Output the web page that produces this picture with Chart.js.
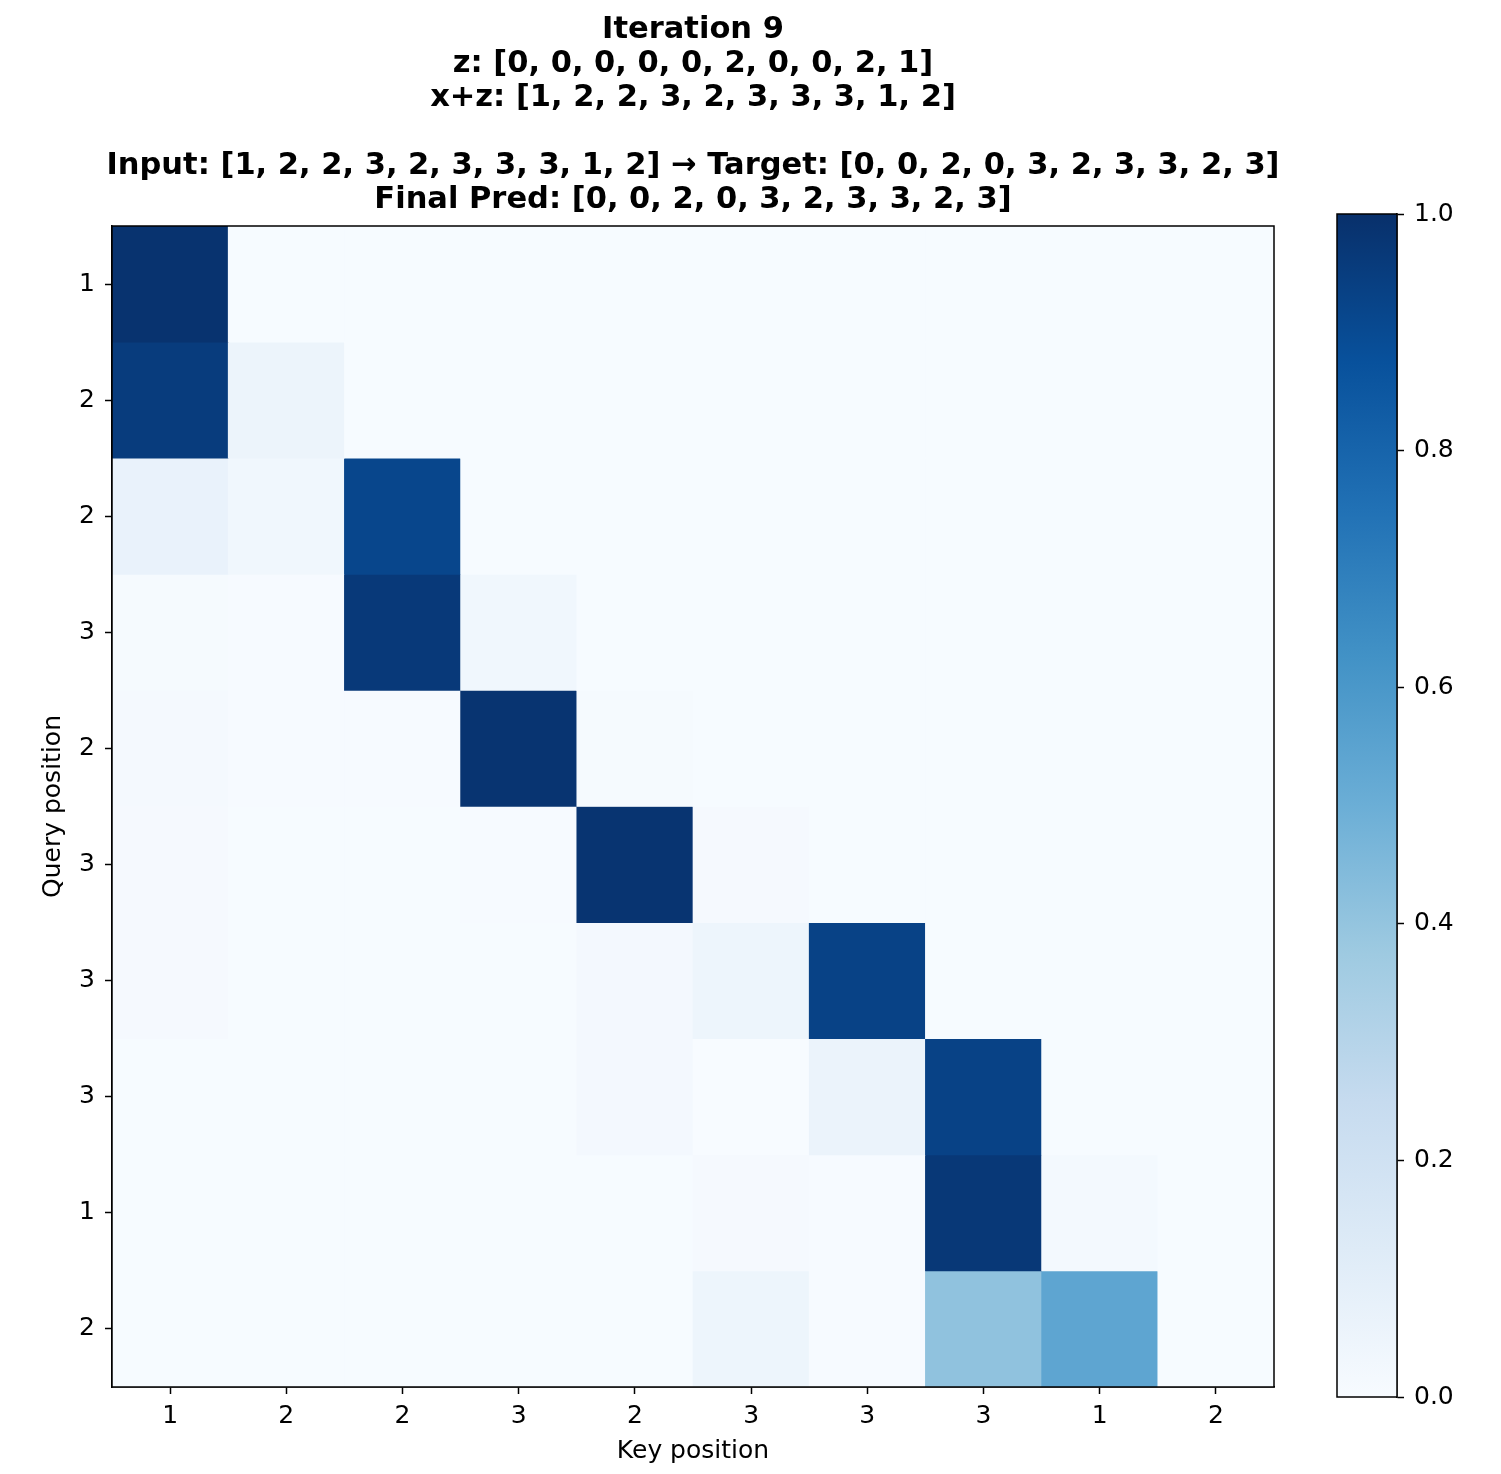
<!DOCTYPE html>
<html><head><meta charset="utf-8">
<script src="https://cdn.jsdelivr.net/npm/chart.js@4.4.0/dist/chart.umd.min.js"></script>
<style>
html,body{margin:0;padding:0;background:#fff;}
#wrap{position:relative;width:1501px;height:1474px;background:#fff;}
#main{position:absolute;left:0;top:0;width:1386px;height:1474px;}
#cbar{position:absolute;left:1330px;top:0;width:171px;height:1474px;}
</style></head><body>
<div id="wrap">
<canvas id="main" width="1386" height="1474"></canvas>
<canvas id="cbar" width="171" height="1474"></canvas>
</div>
<script>
// ---- data ----
const keyTokens   = ['1','2','2','3','2','3','3','3','1','2'];
const queryTokens = ['1','2','2','3','2','3','3','3','1','2'];
const row0 = [0.99, 0.003, 0.003, 0.003, 0.003, 0.003, 0.003, 0.003, 0.003, 0.003];
const row1 = [0.955, 0.055, 0.003, 0.003, 0.003, 0.003, 0.003, 0.003, 0.003, 0.003];
const row2 = [0.07, 0.035, 0.915, 0.003, 0.003, 0.003, 0.003, 0.003, 0.003, 0.003];
const row3 = [0.008, 0.005, 0.965, 0.035, 0.003, 0.003, 0.003, 0.003, 0.003, 0.003];
const row4 = [0.015, 0.004, 0.004, 0.985, 0.01, 0.003, 0.003, 0.003, 0.003, 0.003];
const row5 = [0.012, 0.003, 0.003, 0.004, 0.985, 0.012, 0.003, 0.003, 0.003, 0.003];
const row6 = [0.012, 0.003, 0.003, 0.003, 0.02, 0.05, 0.93, 0.003, 0.003, 0.003];
const row7 = [0.003, 0.003, 0.003, 0.003, 0.02, 0.002, 0.06, 0.93, 0.003, 0.003];
const row8 = [0.003, 0.003, 0.003, 0.003, 0.003, 0.012, 0.006, 0.97, 0.018, 0.003];
const row9 = [0.003, 0.003, 0.003, 0.003, 0.003, 0.05, 0.004, 0.41, 0.54, 0.003];
const attentionRows = [row0,row1,row2,row3,row4,row5,row6,row7,row8,row9];
const colorbarTicks = [0, 0.2, 0.4, 0.6, 0.8, 1.0];
const titleLines = [
  'Iteration 9',
  'z: [0, 0, 0, 0, 0, 2, 0, 0, 2, 1]',
  'x+z: [1, 2, 2, 3, 2, 3, 3, 3, 1, 2]',
  '',
  'Input: [1, 2, 2, 3, 2, 3, 3, 3, 1, 2] \u2192 Target: [0, 0, 2, 0, 3, 2, 3, 3, 2, 3]',
  'Final Pred: [0, 0, 2, 0, 3, 2, 3, 3, 2, 3]'
];

// ---- colormap (matplotlib Blues) ----
const blues = ['#f7fbff','#deebf7','#c6dbef','#9ecae1','#6baed6','#4292c6','#2171b5','#08519c','#08306b'];
function hex2rgb(h){return [1,3,5].map(i=>parseInt(h.substr(i,2),16));}
const bluesRGB = blues.map(hex2rgb);
function bluesColor(v){
  v = Math.max(0, Math.min(1, v));
  const p = v * (bluesRGB.length - 1);
  const i = Math.min(Math.floor(p), bluesRGB.length - 2);
  const t = p - i;
  const a = bluesRGB[i], b = bluesRGB[i+1];
  const c = a.map((x,k)=>Math.round(x + (b[k]-x)*t));
  return `rgb(${c[0]},${c[1]},${c[2]})`;
}

const FONT = 'DejaVu Sans';
const TICK_SIZE = 25;
const frame = {
  id: 'frame',
  afterDraw(chart){
    const a = chart.chartArea, ctx = chart.ctx;
    ctx.save(); ctx.strokeStyle = '#000'; ctx.lineWidth = 1.5;
    ctx.strokeRect(a.left, a.top, a.right - a.left, a.bottom - a.top);
    ctx.restore();
  }
};

// ---- heatmap ----
const datasets = attentionRows.map((row, r) => ({
  data: row.map(() => [r - 0.5, r + 0.5]),
  backgroundColor: row.map(bluesColor),
  borderWidth: 0,
  barPercentage: 1,
  categoryPercentage: 1,
  grouped: false
}));

new Chart(document.getElementById('main'), {
  type: 'bar',
  data: { labels: keyTokens, datasets },
  plugins: [frame],
  options: {
    responsive: false, animation: false,
    layout: { padding: { left: 0, right: 0, top: 0, bottom: 0 } },
    plugins: {
      legend: { display: false }, tooltip: { enabled: false },
      title: {
        display: true, text: titleLines, color: '#000',
        font: { family: FONT, size: 30.5, weight: 'bold', lineHeight: '34px' },
        padding: { top: 13, bottom: 9 }
      }
    },
    scales: {
      x: {
        type: 'category', offset: true,
        grid: { display: true, offset: false, drawOnChartArea: false, drawTicks: true, tickLength: 7, tickWidth: 1.5, tickColor: '#000' },
        border: { display: true, color: '#000', width: 1.5 },
        ticks: { color: '#000', font: { family: FONT, size: TICK_SIZE }, padding: 7, maxRotation: 0, autoSkip: false },
        title: { display: true, text: 'Key position', color: '#000', font: { family: FONT, size: TICK_SIZE }, padding: { top: 0, bottom: 8 } },
        afterFit: s => { s.height = 87; }
      },
      y: {
        type: 'linear', reverse: true, min: -0.5, max: 9.5,
        afterBuildTicks: s => { s.ticks = queryTokens.map((_, i) => ({ value: i })); },
        grid: { display: true, drawOnChartArea: false, drawTicks: true, tickLength: 7, tickWidth: 1.5, tickColor: '#000' },
        border: { display: true, color: '#000', width: 1.5 },
        ticks: { color: '#000', font: { family: FONT, size: TICK_SIZE }, padding: 10, callback: v => queryTokens[v] },
        title: { display: true, text: 'Query position', color: '#000', font: { family: FONT, size: TICK_SIZE }, padding: { top: 38, bottom: 0 } },
        afterFit: s => { s.width = 112; }
      },
      yRight: {
        type: 'linear', position: 'right', display: true,
        grid: { display: false }, border: { display: false }, ticks: { display: false },
        afterFit: s => { s.width = 112; }
      }
    }
  }
});

// ---- colorbar ----
new Chart(document.getElementById('cbar'), {
  type: 'bar',
  data: { labels: [''], datasets: [{
    data: [[colorbarTicks[0], colorbarTicks[colorbarTicks.length - 1]]],
    backgroundColor: (ctx) => {
      const chart = ctx.chart;
      if (!chart.chartArea) return blues[8];
      const y = chart.scales.y;
      const g = chart.ctx.createLinearGradient(0, y.getPixelForValue(0), 0, y.getPixelForValue(1));
      blues.forEach((c, i) => g.addColorStop(i / (blues.length - 1), c));
      return g;
    },
    borderWidth: 0, barPercentage: 1, categoryPercentage: 1
  }]},
  plugins: [frame],
  options: {
    responsive: false, animation: false,
    layout: { padding: { left: 7, right: 0, top: 214, bottom: 77 } },
    plugins: { legend: { display: false }, tooltip: { enabled: false } },
    scales: {
      x: { display: false },
      y: {
        position: 'right', min: 0, max: 1,
        afterBuildTicks: s => { s.ticks = colorbarTicks.map(v => ({ value: v })); },
        grid: { display: true, drawOnChartArea: false, drawTicks: true, tickLength: 7, tickWidth: 1.5, tickColor: '#000' },
        border: { display: true, color: '#000', width: 1.5 },
        ticks: { color: '#000', font: { family: FONT, size: TICK_SIZE }, padding: 10, callback: v => Number(v).toFixed(1) },
        afterFit: s => { s.width = 104; }
      }
    }
  }
});
</script>
</body></html>
